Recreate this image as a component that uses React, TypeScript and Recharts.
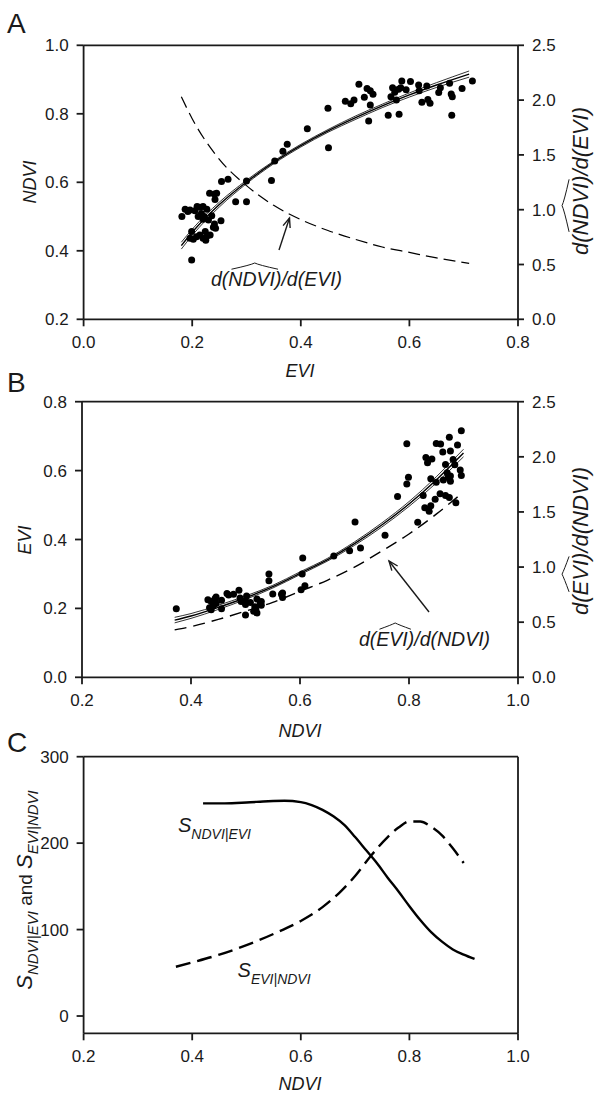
import React from 'react'
import { ComposedChart, Line, Scatter, XAxis, YAxis, ReferenceLine } from 'recharts'

const FONT = '"Liberation Sans", Arial, Helvetica, sans-serif'
const INK = '#1a1a1a'

// plot samples: EVI / NDVI pairs (panel B shows the same samples swapped)
const sampleEVI = [
  0.181, 0.187, 0.196, 0.205, 0.214, 0.22, 0.227, 0.217, 0.211, 0.22, 0.23, 0.236, 0.241, 0.239, 0.253,
  0.232, 0.241, 0.242, 0.254, 0.266, 0.28, 0.3, 0.3, 0.199, 0.196, 0.202, 0.208, 0.214, 0.22, 0.225,
  0.228, 0.224, 0.233, 0.199, 0.209, 0.192, 0.222, 0.243, 0.245, 0.346, 0.352, 0.367, 0.375, 0.412,
  0.45, 0.451, 0.482, 0.492, 0.498, 0.507, 0.517, 0.522, 0.528, 0.533, 0.525, 0.528, 0.561, 0.566,
  0.569, 0.573, 0.576, 0.58, 0.584, 0.581, 0.586, 0.594, 0.602, 0.617, 0.618, 0.623, 0.632, 0.634,
  0.638, 0.654, 0.657, 0.674, 0.677, 0.679, 0.678, 0.697, 0.716,
]
const sampleNDVI = [
  0.5, 0.521, 0.519, 0.517, 0.527, 0.529, 0.521, 0.509, 0.5, 0.492, 0.49, 0.502, 0.478, 0.469, 0.488,
  0.568, 0.566, 0.55, 0.602, 0.609, 0.543, 0.543, 0.604, 0.456, 0.437, 0.434, 0.441, 0.446, 0.437, 0.431,
  0.444, 0.456, 0.446, 0.373, 0.529, 0.515, 0.5, 0.466, 0.568, 0.605, 0.662, 0.691, 0.711, 0.756,
  0.816, 0.701, 0.837, 0.829, 0.84, 0.886, 0.848, 0.874, 0.867, 0.857, 0.779, 0.826, 0.796, 0.85,
  0.876, 0.863, 0.84, 0.872, 0.876, 0.799, 0.896, 0.87, 0.894, 0.884, 0.867, 0.834, 0.881, 0.842,
  0.831, 0.862, 0.876, 0.889, 0.858, 0.85, 0.796, 0.874, 0.896,
]

// panel A: NDVI fitted on EVI, with band, and its slope (right axis)
const gridA = [0.18, 0.2, 0.25, 0.3, 0.35, 0.4, 0.45, 0.5, 0.55, 0.6, 0.65, 0.71]
const fitA = [0.415, 0.454, 0.535, 0.601, 0.658, 0.707, 0.75, 0.788, 0.823, 0.855, 0.884, 0.916]
const upA = [0.425, 0.463, 0.542, 0.606, 0.662, 0.711, 0.754, 0.793, 0.828, 0.861, 0.891, 0.925]
const loA = [0.405, 0.445, 0.528, 0.596, 0.654, 0.703, 0.746, 0.783, 0.818, 0.849, 0.877, 0.907]
const slopeA = [2.03, 1.83, 1.46, 1.22, 1.04, 0.91, 0.81, 0.73, 0.66, 0.61, 0.56, 0.51]

// panel B: EVI fitted on NDVI
const gridB = [0.37, 0.4, 0.45, 0.5, 0.55, 0.6, 0.65, 0.7, 0.75, 0.8, 0.85, 0.9]
const fitB = [0.166, 0.178, 0.203, 0.231, 0.263, 0.302, 0.341, 0.388, 0.442, 0.503, 0.573, 0.651]
const upB = [0.174, 0.185, 0.209, 0.236, 0.267, 0.306, 0.345, 0.393, 0.448, 0.51, 0.582, 0.662]
const loB = [0.158, 0.171, 0.197, 0.226, 0.259, 0.298, 0.337, 0.383, 0.436, 0.496, 0.564, 0.64]
const slopeGridB = [0.37, 0.4, 0.45, 0.5, 0.55, 0.6, 0.65, 0.7, 0.75, 0.8, 0.85, 0.89]
const slopeB = [0.43, 0.46, 0.525, 0.6, 0.68, 0.78, 0.88, 1.0, 1.145, 1.3, 1.48, 1.64]

// panel C: sensitivities
const gridSN = [0.42, 0.46, 0.5, 0.54, 0.57, 0.6, 0.62, 0.64, 0.66, 0.68, 0.7, 0.72, 0.74, 0.76, 0.78, 0.8, 0.82, 0.84, 0.86, 0.88, 0.9, 0.92]
const sNdviEvi = [246, 246, 247, 248.5, 249, 247.5, 244, 238.5, 231, 221, 207, 192, 177, 160, 144, 127, 111, 97, 86, 77, 71, 66]
const gridSE = [0.37, 0.4, 0.45, 0.5, 0.55, 0.6, 0.64, 0.67, 0.7, 0.73, 0.76, 0.78, 0.8, 0.82, 0.84, 0.86, 0.88, 0.9]
const sEviNdvi = [57, 62, 71, 82, 95, 110, 126, 142, 162, 186, 207, 218, 225, 225, 219, 209, 194, 177]

const ticksA = [0, 0.2, 0.4, 0.6, 0.8]
const ticksNdvi = [0.2, 0.4, 0.6, 0.8, 1.0]
const ticksEvi = [0, 0.2, 0.4, 0.6, 0.8]
const ticksSlope = [0, 0.5, 1, 1.5, 2, 2.5]
const ticksS = [0, 100, 200, 300]

const zip = (xs: number[], ys: number[]) => xs.map((x, i) => ({ x, y: ys[i] }))
const pointsA = zip(sampleEVI, sampleNDVI)
const pointsB = zip(sampleNDVI, sampleEVI)

const f1 = (v: number) => v.toFixed(1)
const tickStyle = { fill: INK, fontSize: 17, fontFamily: FONT }
const axisStroke = { stroke: INK, strokeWidth: 1.8 }

const Dot = (p: any) => <circle cx={p.cx} cy={p.cy} r={3.5} fill="#000" />

const W: Record<string, number> = {
  d: 0.556, '(': 0.333, ')': 0.333, '/': 0.278, N: 0.722, D: 0.722, V: 0.667, I: 0.278, E: 0.667,
}
const textW = (s: string, size: number) => s.split('').reduce((a, c) => a + (W[c] ?? 0.556), 0) * size

function HatText({ x, y, pre, hat, post, size }: { x: number; y: number; pre: string; hat: string; post: string; size: number }) {
  const x1 = x + textW(pre, size)
  const x2 = x1 + textW(hat, size)
  const sl = size * 0.16
  const yb = y - size * 0.86
  const yt = y - size * 1.18
  return (
    <g fontStyle="italic" fontSize={size} fill={INK}>
      <text x={x} y={y}>{pre}</text>
      <text x={x1} y={y}>{hat}</text>
      <text x={x2} y={y}>{post}</text>
      <path
        d={`M${x1 + sl} ${yb} Q${(x1 + x2) / 2 + sl - 4} ${yt + 2} ${(x1 + x2) / 2 + sl} ${yt} Q${(x1 + x2) / 2 + sl + 4} ${yt + 2} ${x2 + sl} ${yb}`}
        fill="none"
        stroke={INK}
        strokeWidth={1}
      />
    </g>
  )
}

function RotHat({ cx, cy, pre, hat, post, size }: { cx: number; cy: number; pre: string; hat: string; post: string; size: number }) {
  const w = textW(pre + hat + post, size)
  return (
    <g transform={`translate(${cx},${cy}) rotate(-90)`}>
      <HatText x={-w / 2} y={0} pre={pre} hat={hat} post={post} size={size} />
    </g>
  )
}

function Arrow({ x1, y1, x2, y2 }: { x1: number; y1: number; x2: number; y2: number }) {
  const a = Math.atan2(y2 - y1, x2 - x1)
  const L = 10
  const s = 0.38
  const h1 = [x2 - L * Math.cos(a - s), y2 - L * Math.sin(a - s)]
  const h2 = [x2 - L * Math.cos(a + s), y2 - L * Math.sin(a + s)]
  return (
    <g stroke={INK} strokeWidth={1.4} fill="none">
      <line x1={x1} y1={y1} x2={x2} y2={y2} />
      <polyline points={`${h1[0]},${h1[1]} ${x2},${y2} ${h2[0]},${h2[1]}`} />
    </g>
  )
}

// axis boxes: y axes 60 wide, x axis 40 high; margins put the plot edges where the reference has them
const AX_W = 60
const AX_H = 40

function PanelA() {
  return (
    <ComposedChart width={596} height={370} margin={{ top: 45.3, right: 78 - AX_W, bottom: 50.7 - AX_H, left: 83.6 - AX_W }}>
      <XAxis type="number" dataKey="x" domain={[0, 0.8]} ticks={ticksA} tickFormatter={f1} height={AX_H}
        tick={tickStyle} axisLine={axisStroke} tickLine={axisStroke} tickSize={7} tickMargin={10} interval={0} />
      <YAxis yAxisId="left" type="number" domain={[0.2, 1.0]} ticks={ticksNdvi} tickFormatter={f1} width={AX_W}
        tick={tickStyle} axisLine={axisStroke} tickLine={axisStroke} tickSize={7} tickMargin={8} interval={0} />
      <YAxis yAxisId="right" orientation="right" type="number" domain={[0, 2.5]} ticks={ticksSlope} tickFormatter={f1} width={AX_W}
        tick={tickStyle} axisLine={axisStroke} tickLine={axisStroke} tickSize={6} tickMargin={8} interval={0} />
      <ReferenceLine yAxisId="left" y={1.0} stroke={INK} strokeWidth={1.8} />
      <Line yAxisId="right" data={zip(gridA, slopeA)} dataKey="y" type="monotone" stroke="#000" strokeWidth={1.2}
        strokeDasharray="12 6" dot={false} isAnimationActive={false} />
      <Scatter yAxisId="left" data={pointsA} dataKey="y" shape={Dot} isAnimationActive={false} />
      <Line yAxisId="left" data={zip(gridA, upA)} dataKey="y" type="monotone" stroke="#000" strokeWidth={0.8} dot={false} isAnimationActive={false} />
      <Line yAxisId="left" data={zip(gridA, loA)} dataKey="y" type="monotone" stroke="#000" strokeWidth={0.8} dot={false} isAnimationActive={false} />
      <Line yAxisId="left" data={zip(gridA, fitA)} dataKey="y" type="monotone" stroke="#000" strokeWidth={1.4} dot={false} isAnimationActive={false} />
    </ComposedChart>
  )
}

function PanelB() {
  return (
    <ComposedChart width={596} height={370} margin={{ top: 41.7, right: 78 - AX_W, bottom: 52.7 - AX_H, left: 82 - AX_W }}>
      <XAxis type="number" dataKey="x" domain={[0.2, 1.0]} ticks={ticksNdvi} tickFormatter={f1} height={AX_H}
        tick={tickStyle} axisLine={axisStroke} tickLine={axisStroke} tickSize={7} tickMargin={10} interval={0} />
      <YAxis yAxisId="left" type="number" domain={[0, 0.8]} ticks={ticksEvi} tickFormatter={f1} width={AX_W}
        tick={tickStyle} axisLine={axisStroke} tickLine={axisStroke} tickSize={7} tickMargin={8} interval={0} />
      <YAxis yAxisId="right" orientation="right" type="number" domain={[0, 2.5]} ticks={ticksSlope} tickFormatter={f1} width={AX_W}
        tick={tickStyle} axisLine={axisStroke} tickLine={axisStroke} tickSize={6} tickMargin={8} interval={0} />
      <ReferenceLine yAxisId="left" y={0.8} stroke={INK} strokeWidth={1.8} />
      <Line yAxisId="right" data={zip(slopeGridB, slopeB)} dataKey="y" type="monotone" stroke="#000" strokeWidth={1.4}
        strokeDasharray="12 7" dot={false} isAnimationActive={false} />
      <Scatter yAxisId="left" data={pointsB} dataKey="y" shape={Dot} isAnimationActive={false} />
      <Line yAxisId="left" data={zip(gridB, upB)} dataKey="y" type="monotone" stroke="#000" strokeWidth={0.8} dot={false} isAnimationActive={false} />
      <Line yAxisId="left" data={zip(gridB, loB)} dataKey="y" type="monotone" stroke="#000" strokeWidth={0.8} dot={false} isAnimationActive={false} />
      <Line yAxisId="left" data={zip(gridB, fitB)} dataKey="y" type="monotone" stroke="#000" strokeWidth={1.4} dot={false} isAnimationActive={false} />
    </ComposedChart>
  )
}

function PanelC() {
  return (
    <ComposedChart width={596} height={377} margin={{ top: 36.7, right: 78, bottom: 63.7 - AX_H, left: 83.6 - AX_W }}>
      <XAxis type="number" dataKey="x" domain={[0.2, 1.0]} ticks={ticksNdvi} tickFormatter={f1} height={AX_H}
        tick={tickStyle} axisLine={axisStroke} tickLine={axisStroke} tickSize={7} tickMargin={10} interval={0} />
      <YAxis yAxisId="left" type="number" domain={[-20, 300]} ticks={ticksS} width={AX_W}
        tick={tickStyle} axisLine={axisStroke} tickLine={axisStroke} tickSize={7} tickMargin={8} interval={0} />
      <ReferenceLine yAxisId="left" y={300} stroke={INK} strokeWidth={1.8} />
      <ReferenceLine yAxisId="left" x={1.0} stroke={INK} strokeWidth={1.8} />
      <Line yAxisId="left" data={zip(gridSN, sNdviEvi)} dataKey="y" type="monotone" stroke="#000" strokeWidth={2.4}
        dot={false} isAnimationActive={false} />
      <Line yAxisId="left" data={zip(gridSE, sEviNdvi)} dataKey="y" type="monotone" stroke="#000" strokeWidth={2.4}
        strokeDasharray="15 7" dot={false} isAnimationActive={false} />
    </ComposedChart>
  )
}

export default function App() {
  return (
    <div style={{ position: 'absolute', left: 0, top: 0, width: 596, height: 1097, background: '#fff', fontFamily: FONT }}>
      <div style={{ position: 'absolute', left: 0, top: 0 }}><PanelA /></div>
      <div style={{ position: 'absolute', left: 0, top: 360 }}><PanelB /></div>
      <div style={{ position: 'absolute', left: 0, top: 720 }}><PanelC /></div>
      <svg width={596} height={1097} style={{ position: 'absolute', left: 0, top: 0, pointerEvents: 'none' }}
        fontFamily={FONT} fill={INK}>
        {/* panel letters */}
        <text x={7} y={33} fontSize={28}>A</text>
        <text x={7} y={392} fontSize={28}>B</text>
        <text x={7} y={752} fontSize={28}>C</text>

        {/* axis titles */}
        <text x={300} y={377} fontSize={18} fontStyle="italic" textAnchor="middle">EVI</text>
        <text x={300} y={737} fontSize={18} fontStyle="italic" textAnchor="middle">NDVI</text>
        <text x={300} y={1090} fontSize={18} fontStyle="italic" textAnchor="middle">NDVI</text>
        <text transform="translate(36,182) rotate(-90)" fontSize={18} fontStyle="italic" textAnchor="middle">NDVI</text>
        <text transform="translate(31,540) rotate(-90)" fontSize={18} fontStyle="italic" textAnchor="middle">EVI</text>
        <text transform="translate(32,890) rotate(-90)" fontSize={19} textAnchor="middle">
          <tspan fontStyle="italic" fontSize={22}>S</tspan>
          <tspan fontStyle="italic" fontSize={15} dy={6}>NDVI|EVI</tspan>
          <tspan dy={-6}> and </tspan>
          <tspan fontStyle="italic" fontSize={22}>S</tspan>
          <tspan fontStyle="italic" fontSize={15} dy={6}>EVI|NDVI</tspan>
        </text>
        <RotHat cx={588} cy={181} pre="d(" hat="NDVI" post=")/d(EVI)" size={22} />
        <RotHat cx={588} cy={541} pre="d(" hat="EVI" post=")/d(NDVI)" size={22} />

        {/* in-plot annotations */}
        <HatText x={211} y={286} pre="d(" hat="NDVI" post=")/d(EVI)" size={19.5} />
        <Arrow x1={279} y1={250} x2={289.5} y2={218} />
        <HatText x={359} y={646} pre="d(" hat="EVI" post=")/d(NDVI)" size={19.5} />
        <Arrow x1={429} y1={612} x2={389} y2={561} />

        <text x={178} y={832} fontSize={20} fontStyle="italic">
          S<tspan fontSize={14} dy={7}>NDVI|EVI</tspan>
        </text>
        <text x={237.6} y={977} fontSize={20} fontStyle="italic">
          S<tspan fontSize={14} dy={7}>EVI|NDVI</tspan>
        </text>
      </svg>
    </div>
  )
}
